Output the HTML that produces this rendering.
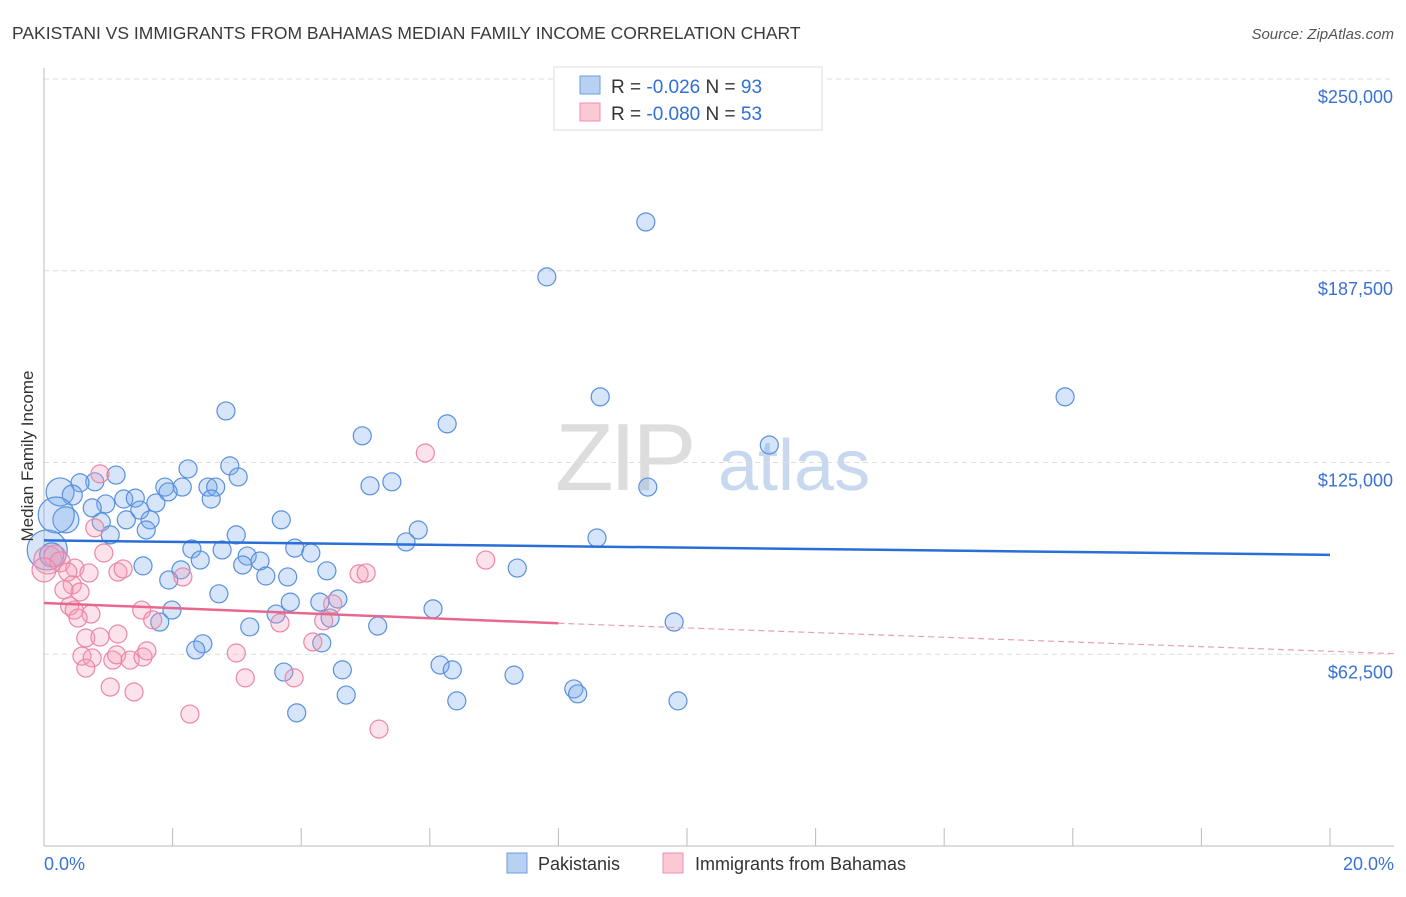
<!DOCTYPE html>
<html><head><meta charset="utf-8"><style>
body{margin:0;background:#fff;font-family:"Liberation Sans",sans-serif;}
svg text{font-family:"Liberation Sans",sans-serif;}
</style></head><body>
<svg id="chart" width="1406" height="892" xmlns="http://www.w3.org/2000/svg">
<text x="12" y="39" font-size="17.5" fill="#3a3a3a">PAKISTANI VS IMMIGRANTS FROM BAHAMAS MEDIAN FAMILY INCOME CORRELATION CHART</text>
<text x="1394" y="39" font-size="15" fill="#555" text-anchor="end" font-style="italic">Source: ZipAtlas.com</text>
<text x="555" y="490" font-size="96" fill="#ddd" font-family="Liberation Serif" letter-spacing="-4">ZIP</text>
<text x="718" y="490" font-size="72" fill="#c8d8ee">atlas</text>
<g id="grid"></g>
<g id="axes"></g>
<g id="pts"></g>
<g id="trend"></g>
<text transform="translate(33,456) rotate(-90)" font-size="17" fill="#333" text-anchor="middle">Median Family Income</text>
<g>
<rect x="554" y="67" width="268" height="63" fill="#fff" stroke="#ddd"/>
<rect x="580" y="76" width="20" height="18" fill="#b8d1f3" stroke="#6d9de0"/>
<rect x="580" y="103" width="20" height="18" fill="#fbc8d6" stroke="#ec8fab"/>
<text x="611" y="93" font-size="19" fill="#333">R = <tspan fill="#2f6fd6">-0.026</tspan>   N = <tspan fill="#2f6fd6">93</tspan></text>
<text x="611" y="120" font-size="19" fill="#333">R = <tspan fill="#2f6fd6">-0.080</tspan>   N = <tspan fill="#2f6fd6">53</tspan></text>
</g>
<g>
<rect x="507" y="853" width="20" height="20" fill="#b8d1f3" stroke="#6d9de0"/>
<text x="538" y="870" font-size="18" fill="#333">Pakistanis</text>
<rect x="663" y="853" width="20" height="20" fill="#fbc8d6" stroke="#ec8fab"/>
<text x="695" y="870" font-size="18" fill="#333">Immigrants from Bahamas</text>
</g>
</svg>
<script>
const yTicks=[62500,125000,187500,250000];
const yTickLabels=["$62,500","$125,000","$187,500","$250,000"];
const xTickVals=[0,2,4,6,8,10,12,14,16,18,20];
const blueX=[9.36,7.82,8.65,15.88,11.28,2.83,4.95,6.27,9.39,5.07,5.41,2.89,3.02,2.24,1.12,0.79,0.56,0.25,0.44,1.88,2.15,2.55,2.67,2.60,1.93,1.24,1.42,1.74,0.96,0.75,1.49,0.89,1.28,1.65,0.34,1.59,1.03,0.19,3.69,2.99,5.82,5.63,8.60,2.30,2.77,3.16,3.90,4.15,2.43,3.36,3.09,1.54,4.40,7.36,2.13,3.45,3.79,1.94,2.72,4.57,4.29,3.83,1.99,6.05,3.61,4.45,1.80,9.80,3.20,5.19,2.47,2.36,4.32,6.16,6.35,3.73,4.64,7.31,8.24,8.30,4.70,6.42,9.86,3.93,0.05,0.12];
const blueY=[203.4,185.5,146.4,146.4,130.7,141.8,133.7,137.6,117.0,117.4,118.7,123.9,120.3,122.9,120.9,118.7,118.4,115.4,114.4,117.0,117.0,117.0,117.0,113.1,115.4,113.1,113.4,111.8,111.5,110.2,109.5,105.6,106.3,106.3,106.3,103.0,101.4,107.9,106.3,101.4,103.0,99.1,100.4,96.8,96.5,94.5,97.1,95.5,93.2,92.9,91.6,91.3,89.7,90.6,90.0,88.0,87.7,86.7,82.2,80.5,79.5,79.5,76.9,77.3,75.6,74.3,73.0,73.0,71.4,71.7,65.9,63.9,66.2,59.0,57.4,56.7,57.4,55.7,51.2,49.6,49.2,47.3,47.3,43.4,96.5,94.9];
const blueR=[9,9,9,9,9,9,9,9,9,9,9,9,9,9,9,9,9,14,10,9,9,9,9,9,9,9,9,9,9,9,9,9,9,9,13,9,9,18,9,9,9,9,9,9,9,9,9,9,9,9,9,9,9,9,9,9,9,9,9,9,9,9,9,9,9,9,9,9,9,9,9,9,9,9,9,9,9,9,9,9,9,9,9,9,20,12];
const pinkX=[5.93,0.87,0.79,6.87,0.93,0.06,0.17,0.25,0.48,0.70,0.37,1.15,1.23,2.16,4.90,5.01,0.44,0.56,0.31,0.40,0.47,0.73,0.53,1.52,1.69,3.67,4.35,4.49,0.65,0.87,1.15,0.59,0.75,1.07,1.13,1.34,1.54,1.60,2.99,4.18,0.65,1.03,1.40,3.13,3.89,2.27,5.21,0.0];
const pinkY=[128.1,121.3,103.7,93.2,95.5,93.2,94.5,92.6,90.6,89.0,89.3,89.3,90.3,87.7,88.7,89.0,85.1,82.8,83.5,78.2,76.9,75.6,74.3,76.9,73.7,72.7,73.4,78.9,67.8,68.1,69.1,61.9,61.3,60.6,62.3,60.6,61.6,63.6,62.9,66.5,58.0,51.8,50.2,54.8,54.8,43.0,38.1,90.0];
const pinkR=[9,9,9,9,9,14,11,10,9,9,9,9,9,9,9,9,9,9,9,9,9,9,9,9,9,9,9,9,9,9,9,9,9,9,9,9,9,9,9,9,9,9,9,9,9,9,9,12];
const blueTrend=[[0,99.6],[20,94.9]];
const pinkTrend=[[0,79.2],[8,72.6],[21,62.7]];
const NS="http://www.w3.org/2000/svg";
const X0=44,X1=1330,YB=846,Y250=79;
const xs=v=>X0+(X1-X0)*v/20;
const ys=v=>YB-(YB-Y250)*v/250000;
function mk(t,a,p){const e=document.createElementNS(NS,t);for(const k in a)e.setAttribute(k,a[k]);p.appendChild(e);return e;}
const grid=document.getElementById('grid'),axes=document.getElementById('axes');
yTicks.forEach((v,i)=>{
 const l=mk('line',{x1:X0,x2:1394,y1:ys(v),y2:ys(v),stroke:'#ddd','stroke-dasharray':'5,4'},grid);
 
 
 const t=mk('text',{x:1393,y:ys(v)+24,'font-size':18,fill:'#3a72d4','text-anchor':'end'},axes);
 t.textContent=yTickLabels[i];
 
 
});
const ax=mk('line',{x1:X0,x2:X0,y1:68,y2:YB,stroke:'#bbb'},axes);


const bx=mk('line',{x1:X0,x2:1394,y1:YB,y2:YB,stroke:'#bbb'},axes);


xTickVals.forEach(v=>{
 const l=mk('line',{x1:xs(v),x2:xs(v),y1:828,y2:YB,stroke:'#bbb'},axes);
 
 
});
[['0.0%',X0,'start'],['20.0%',1394,'end']].forEach(d=>{
 const t=mk('text',{x:d[1],y:870,'font-size':18,fill:'#3a72d4','text-anchor':d[2]},axes);
 t.textContent=d[0];
 
 
});
const pts=document.getElementById('pts');
blueX.forEach((v,i)=>{
 const c=mk('circle',{cx:xs(v),cy:ys(blueY[i]*1000),r:blueR[i],fill:'rgba(120,170,235,0.3)',stroke:'#5a90dc','stroke-width':1.2},pts);
 
 
});
pinkX.forEach((v,i)=>{
 const c=mk('circle',{cx:xs(v),cy:ys(pinkY[i]*1000),r:pinkR[i],fill:'rgba(245,160,185,0.3)',stroke:'#ea87a6','stroke-width':1.2},pts);
 
 
});
const tr=document.getElementById('trend');
const bl=mk('line',{x1:xs(blueTrend[0][0]),y1:ys(blueTrend[0][1]*1000),x2:xs(blueTrend[1][0]),y2:ys(blueTrend[1][1]*1000),stroke:'#2a6fd6','stroke-width':2.5},tr);


const pl=mk('line',{x1:xs(pinkTrend[0][0]),y1:ys(pinkTrend[0][1]*1000),x2:xs(pinkTrend[1][0]),y2:ys(pinkTrend[1][1]*1000),stroke:'#e8678f','stroke-width':2.5},tr);


const pd=mk('line',{x1:xs(pinkTrend[1][0]),y1:ys(pinkTrend[1][1]*1000),x2:xs(pinkTrend[2][0]),y2:ys(pinkTrend[2][1]*1000),stroke:'#e8a0b5','stroke-width':1.2,'stroke-dasharray':'6,4'},tr);


</script>
</body></html>
